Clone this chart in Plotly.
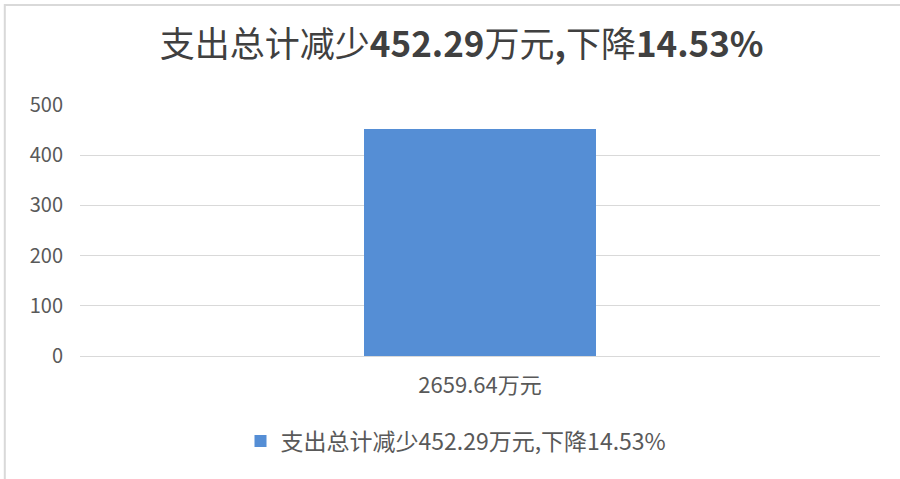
import plotly.graph_objects as go

categories = ["2659.64万元"]
values = [452.29]
series_name = "支出总计减少452.29万元,下降14.53%"
title_html = "支出总计减少<b>452.29</b>万元<b>,</b>下降<b>14.53%</b>"
y_ticks = [0, 100, 200, 300, 400, 500]

FONT = "Noto Sans CJK SC"

fig = go.Figure()
fig.add_trace(go.Bar(
    x=categories, y=values, name=series_name,
    marker=dict(color="#558ed5", line=dict(width=0)),
    width=0.291,
    showlegend=True,
))

fig.update_layout(
    width=900, height=479,
    margin=dict(l=80, r=20, t=105, b=123),
    paper_bgcolor="white", plot_bgcolor="white",
    title=dict(text=title_html, x=0.513, xanchor="center",
               y=0.906, yanchor="middle", xref="container", yref="container",
               font=dict(family=FONT, size=35, color="#404040")),
    font=dict(family=FONT, color="#595959"),
    xaxis=dict(showgrid=False, showline=False, ticks="",
               ticklabelstandoff=14,
               tickfont=dict(size=22, color="#595959"), range=[-0.5, 0.5]),
    yaxis=dict(range=[0, 500], tickvals=y_ticks, showgrid=True,
               gridcolor="#d9d9d9", gridwidth=1, zeroline=True,
               zerolinecolor="#d9d9d9", zerolinewidth=1,
               showline=False, ticks="", ticklabelstandoff=16,
               tickfont=dict(size=20, color="#595959")),
    legend=dict(orientation="h", x=0.47, xanchor="center", y=-0.339,
                yanchor="middle", font=dict(size=23, color="#595959")),
    bargap=0,
    shapes=[dict(type="rect", xref="paper", yref="paper",
                 x0=-0.094, x1=1.1, y0=-0.7, y1=1.398,
                 line=dict(color="#d9d9d9", width=2), fillcolor="rgba(0,0,0,0)")],
)

fig.write_html("out.html", config={"displayModeBar": False},
               post_script="document.body.style.margin='0';document.body.style.overflow='hidden';")
